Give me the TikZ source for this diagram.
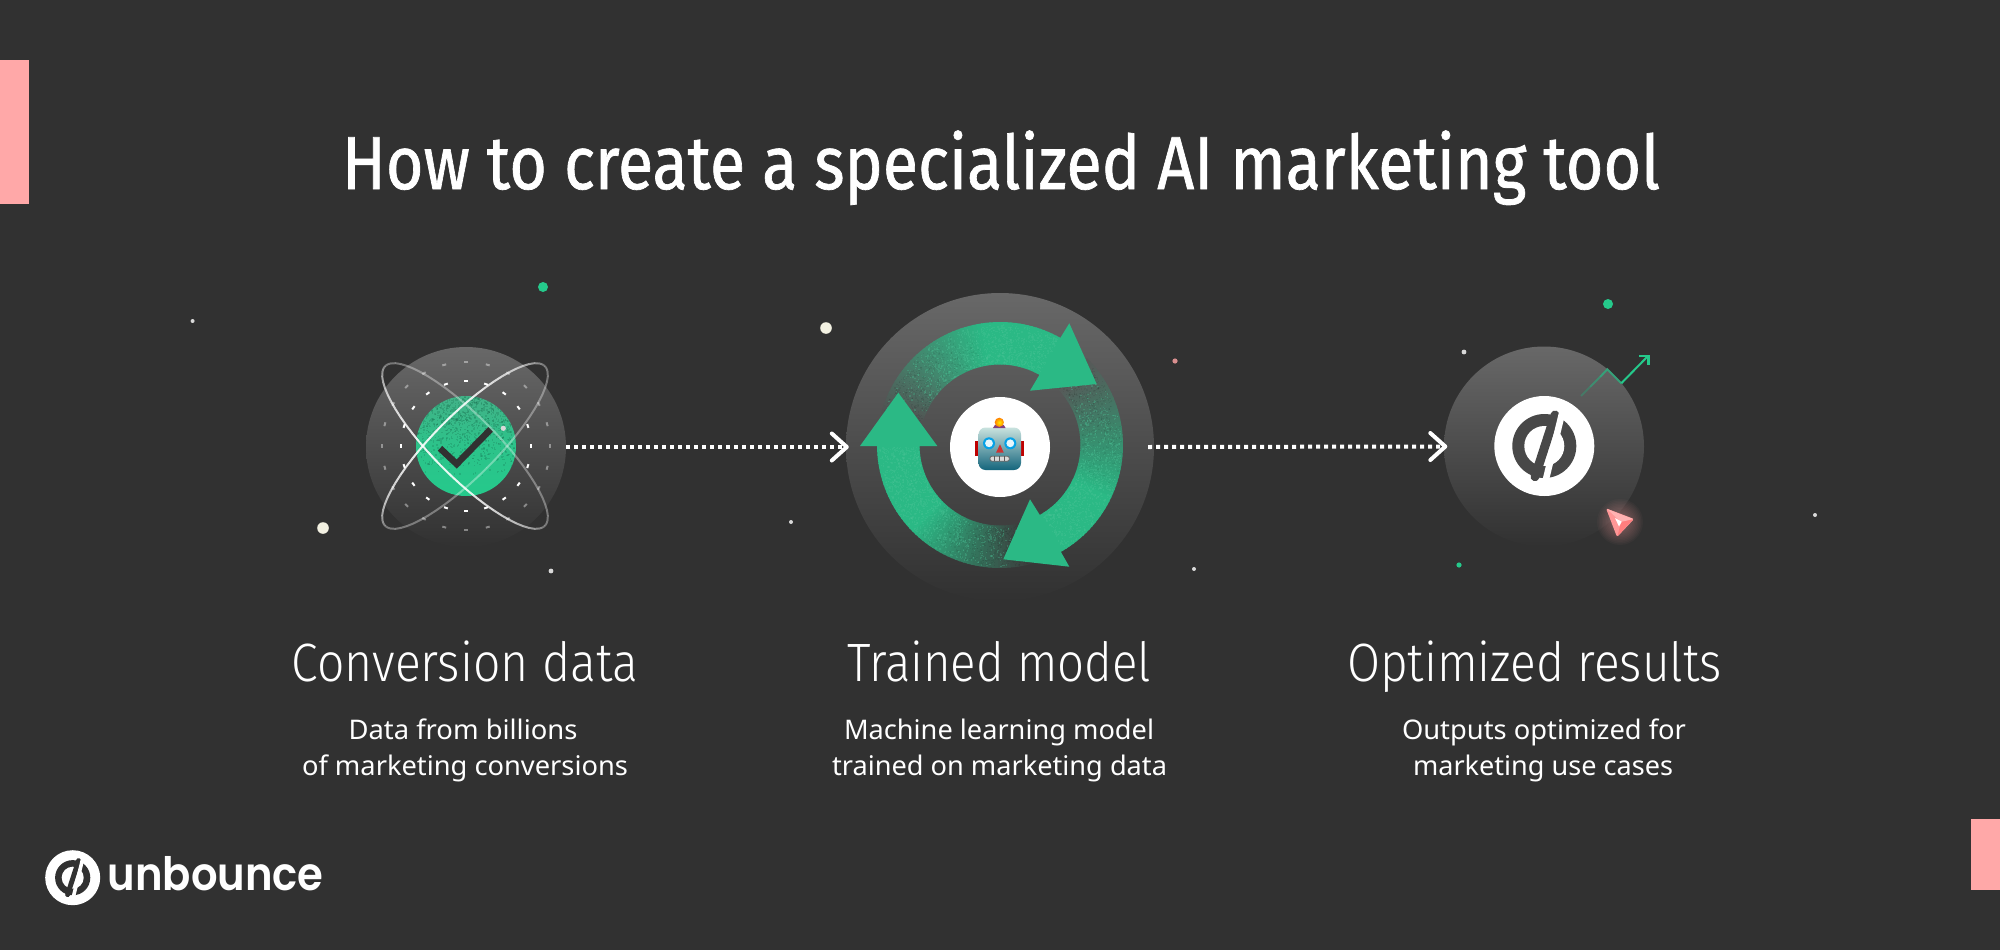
\documentclass[tikz,border=0pt]{standalone}
\usepackage{graphicx}
\usepackage{fontspec}
\usetikzlibrary{arrows.meta}
\setmainfont{Noto Sans}
\newfontfamily\titlef[FakeBold=1]{Fira Sans}
\newfontfamily\headf{Fira Sans Light}
\newfontfamily\brandf{Poppins SemiBold}
\definecolor{bg}{HTML}{313131}
\definecolor{pinkbar}{HTML}{FFA8A8}
\definecolor{arrowgreen}{RGB}{43,185,133}
\definecolor{discgreen}{HTML}{25C98B}
\definecolor{cream}{HTML}{F3F1E2}
\definecolor{disctop}{HTML}{686868}
\definecolor{logodark}{HTML}{484848}
\definecolor{midgrey}{HTML}{565656}
\newcommand\fitw[2]{\resizebox{#1pt}{\height}{#2}}
% ring tail: start angle, fade length, end angle
\newcommand\ringtail[3]{%
  \foreach \a in {#1,\the\numexpr#1-2\relax,...,#3}{%
    \pgfmathsetmacro\al{min(1,(#1-\a)/#2)}%
    \pgfmathsetmacro\ym{445-101.5*sin(\a)}%
    \pgfmathsetmacro\gl{102-(\ym-293)/308*51}%
    \pgfmathtruncatemacro\cr{\gl+(43-\gl)*\al}%
    \pgfmathtruncatemacro\cg{\gl+(185-\gl)*\al}%
    \pgfmathtruncatemacro\cb{\gl+(133-\gl)*\al}%
    \definecolor{segc}{RGB}{\cr,\cg,\cb}%
    \pgfmathsetmacro\b{\a-2.6}%
    \fill[segc] ({1000+123*cos(\a)},{445-123*sin(\a)})
      -- ({1000+123*cos(\b)},{445-123*sin(\b)})
      -- ({1000+80.5*cos(\b)},{445-80.5*sin(\b)})
      -- ({1000+80.5*cos(\a)},{445-80.5*sin(\a)}) -- cycle;
  }}
\newcommand\ringnoise[3]{%
  \foreach \i in {1,...,1500}{%
    \pgfmathsetmacro\aa{#1-rnd*(#1-#3)}%
    \pgfmathsetmacro\rr{82+rnd*39}%
    \pgfmathsetmacro\al{min(1,(#1-\aa)/#2)}%
    \pgfmathtruncatemacro\ok{rnd<\al?1:0}%
    \ifnum\ok=1
      \fill[arrowgreen!85!white,opacity=.30] ({1000+\rr*cos(\aa)},{445-\rr*sin(\aa)}) rectangle ++(1.3,1.3);
    \else
      \fill[black,opacity=.06] ({1000+\rr*cos(\aa)},{445-\rr*sin(\aa)}) rectangle ++(1.3,1.3);
    \fi
  }}
\newcommand\orbit[1]{%
  \foreach \t in {0,6,...,354}{%
    \pgfmathsetmacro\o{.34+.56*max(0,sin(\t))}%
    \pgfmathsetmacro\ta{\t+6}%
    \pgfmathsetmacro\ux{cos(45)}\pgfmathsetmacro\uy{#1*sin(45)}%
    \pgfmathsetmacro\vx{-sin(45)}%
    \draw[white,line width=2pt,opacity=\o]
      ({465+113*cos(\t)*\ux+31*sin(\t)*\vx},{446+113*cos(\t)*\uy+#1*31*sin(\t)*\ux})
      -- ({465+113*cos(\ta)*\ux+31*sin(\ta)*\vx},{446+113*cos(\ta)*\uy+#1*31*sin(\ta)*\ux});
  }}
\newcommand\logomark[4]{%
  \begin{scope}[shift={(#1,#2)},x=#3pt,y=-#3pt]
    \fill[#4] (0,0) circle (32);
    \fill[white] (0,0) circle (20);
    \draw[#4,line width=9pt*#3,line cap=round] (10.7,-31) -- (-9.3,30.7);
    \draw[white,line width=6.5pt*#3] (20,-42) -- (-0.5,42);
  \end{scope}}
\tikzset{
  bigdisc/.style={circle,inner sep=0pt,shade,top color=disctop,bottom color=bg},
  whitedisc/.style={circle,inner sep=0pt,fill=white,minimum size=100pt},
  flow/.style={white,line width=4pt,dash pattern=on 4pt off 4pt,
    -{Straight Barb[length=15pt,width=27pt,line width=4pt,round]}},
  labelt/.style={text=white,anchor=base,inner sep=0pt},
  mote/.style={fill=white!85!black},
}
\begin{document}
\begin{tikzpicture}[x=1pt,y=-1pt]
\useasboundingbox (0,0) rectangle (2000,950);
\fill[bg] (0,0) rectangle (2000,950);
\fill[pinkbar] (0,60) rectangle (29,204);
\fill[pinkbar] (1971,819) rectangle (2000,890);

% motes
\fill[discgreen] (543,287) circle (5);
\fill[discgreen] (1608,304) circle (5);
\fill[discgreen] (1459,565) circle (2.6);
\fill[mote] (192.6,321) circle (2);
\fill[mote] (791,522) circle (2);
\fill[mote] (551,571) circle (2.4);
\fill[mote] (1194,569) circle (2);
\fill[mote] (1464,352) circle (2.4);
\fill[mote] (1815,515) circle (2);
\fill[cream] (826,328) circle (5.8);
\fill[cream] (323,528) circle (5.8);
\fill[pinkbar!85!black] (1175,361) circle (2.6);

% big discs
\node[bigdisc,minimum size=200pt] (cA) at (466,447) {};
\node[bigdisc,minimum size=308pt] (cB) at (1000,447) {};
\node[bigdisc,minimum size=200pt] (cC) at (1544,446.5) {};

% ---- conversion data
\begin{scope}
  \clip (466,446) circle (50);
  \shade[top color=discgreen!68!gray,bottom color=discgreen,middle color=discgreen!92!gray] (416,396) rectangle (516,496);
  \pgfmathsetseed{4}
  \foreach \i in {1,...,2400}{%
    \pgfmathsetmacro\nx{416+rnd*100}%
    \pgfmathsetmacro\ny{396+rnd*80}%
    \pgfmathtruncatemacro\ok{rnd<(1.0-(\ny-396)/80)?1:0}%
    \ifnum\ok=1
      \fill[black!50!discgreen,opacity=.22] (\nx,\ny) rectangle ++(1.5,1.5);
    \fi
  }
\end{scope}
\foreach \t in {0,18,...,342}
  \draw[white,line width=2pt] ({466+65*cos(\t)-2*sin(\t)},{446+65*sin(\t)+2*cos(\t)}) -- ({466+65*cos(\t)+2*sin(\t)},{446+65*sin(\t)-2*cos(\t)});
\foreach \t in {0,15,...,345}
  \draw[white,opacity=.4,line width=2pt] ({466+84*cos(\t)-2*sin(\t)},{446+84*sin(\t)+2*cos(\t)}) -- ({466+84*cos(\t)+2*sin(\t)},{446+84*sin(\t)-2*cos(\t)});
\draw[bg,line width=6.5pt,miter limit=10] (440,448.3) -- (456.7,464) -- (490.7,429.3);
\orbit{-1}
\orbit{1}
\fill[white!85!black] (503.3,428.3) circle (2.6);

% ---- trained model
\ringtail{165}{65}{59}
\ringtail{45}{70}{-59}
\ringtail{-75}{60}{-179}
\pgfmathsetseed{11}
\ringnoise{165}{65}{61}
\ringnoise{45}{70}{-59}
\ringnoise{-75}{60}{-179}
\fill[arrowgreen] (1069.3,323.3) -- (1096.7,384) -- (1030,390.7) -- (1039.3,375) -- (1060.7,337.3) -- cycle;
\fill[arrowgreen] (1030,499.3) -- (1040,515.3) -- (1061.7,553.3) -- (1069.3,566.7) -- (1003.3,559.3) -- cycle;
\fill[arrowgreen] (860,446) -- (898.3,392.7) -- (937.3,446) -- cycle;
\node[whitedisc] (robotdisc) at (1000,447) {};
% robot
\definecolor{rtop}{HTML}{C9E2DE}
\definecolor{rmid}{HTML}{7DB0B6}
\definecolor{rbot}{HTML}{14657C}
\fill[red!75!black] (975,441) rectangle (979.5,455.7);
\fill[red!75!black] (1019.5,441) rectangle (1024,455.7);
\shade[top color=rtop,middle color=rmid,bottom color=rbot,rounded corners=7pt] (978.5,427.5) rectangle (1021,470);
\fill[violet!50!gray] (993,428) -- (1005.6,428) arc[start angle=0,end angle=180,x radius=6.3,y radius=-4.2] -- cycle;
\shade[inner color=yellow!85!orange,outer color=orange] (999.3,422.3) circle (4.6);
\foreach \ex in {989,1010.3}{
  \fill[cyan!90!blue] (\ex,443.3) circle (6);
  \fill[white!90!cyan] (\ex,443.3) circle (3.9);
}
\fill[red!60!gray] (1000,444.3) -- (996,452.7) -- (1003.8,452.7) -- cycle;
\fill[gray!30,draw=black!60,line width=.8pt,rounded corners=2pt] (990,456.2) rectangle (1009.3,461.2);
\foreach \mx in {994.8,999.6,1004.4} \draw[black!65,line width=.8pt] (\mx,456.2) -- (\mx,461.2);

% ---- optimized results
\node[whitedisc] (logodisc) at (1544.3,446) {};
\logomark{1544.3}{446}{1}{logodark}
% growth arrow
\draw[arrowgreen!35!midgrey,line width=2pt] (1581,396) -- (1590,387);
\draw[arrowgreen!55!midgrey,line width=2pt] (1590,387) -- (1600,377);
\draw[arrowgreen!75!midgrey,line width=2pt] (1600,377) -- (1607.3,369.3) -- (1621.3,383.3);
\draw[discgreen,line width=2pt] (1621.3,383.3) -- (1648.3,355.7);
\draw[discgreen,line width=2.4pt] (1639,355.7) -- (1648.3,355.7) -- (1648.3,364.5);
% cursor
\foreach \r in {8,9.5,...,24}
  \fill[pinkbar,opacity=.035] (1620,522) circle (\r);
\fill[pinkbar!90!red,rounded corners=1.5pt] (1606,508.3) -- (1634,519) -- (1617,537) -- cycle;
\fill[pinkbar!88!white] (1607,509) -- (1633,519) -- (1621,522) -- cycle;
\fill[red!25!pinkbar] (1633,519.5) -- (1617.5,536) -- (1621,522) -- cycle;
\fill[white] (1615,518) -- (1621.7,521.7) -- (1619,526.5) -- cycle;

% connectors
\draw[flow,shorten >=-3pt] (cA.east) -- (cB.west);
\draw[flow,shorten >=-3.5pt] ([xshift=-6pt]cB.east) -- (cC.west);

% title
\node[labelt] (title) at (1001,189) {\fitw{1318}{\titlef\fontsize{75}{80}\selectfont How to create a specialized AI marketing tool}};

% labels
\node[labelt] (h1) at (465,681) {\fitw{346}{\headf\fontsize{54}{60}\selectfont Conversion data}};
\node[labelt] (h2) at (999,681) {\fitw{304}{\headf\fontsize{54}{60}\selectfont Trained model}};
\node[labelt] (h3) at (1534.5,681) {\fitw{375}{\headf\fontsize{54}{60}\selectfont Optimized results}};

\node[labelt] (s1a) at (463,739.5) {\fitw{229}{\fontsize{27}{32}\selectfont Data from billions}};
\node[labelt] (s1b) at (465,775.5) {\fitw{326}{\fontsize{27}{32}\selectfont of marketing conversions}};
\node[labelt] (s2a) at (999,739.5) {\fitw{310}{\fontsize{27}{32}\selectfont Machine learning model}};
\node[labelt] (s2b) at (999.5,775.5) {\fitw{335}{\fontsize{27}{32}\selectfont trained on marketing data}};
\node[labelt] (s3a) at (1544,739.5) {\fitw{284}{\fontsize{27}{32}\selectfont Outputs optimized for}};
\node[labelt] (s3b) at (1543,775.5) {\fitw{260}{\fontsize{27}{32}\selectfont marketing use cases}};

% brand
\node[circle,inner sep=0pt,fill=white,minimum size=55pt] (brandmark) at (72.7,877.7) {};
\logomark{72.7}{877.7}{.55}{bg}
\node[labelt,anchor=base west] (brand) at (107.5,890.5) {\fitw{216}{\brandf\fontsize{46}{50}\selectfont unbounce}};
\end{tikzpicture}
\end{document}
